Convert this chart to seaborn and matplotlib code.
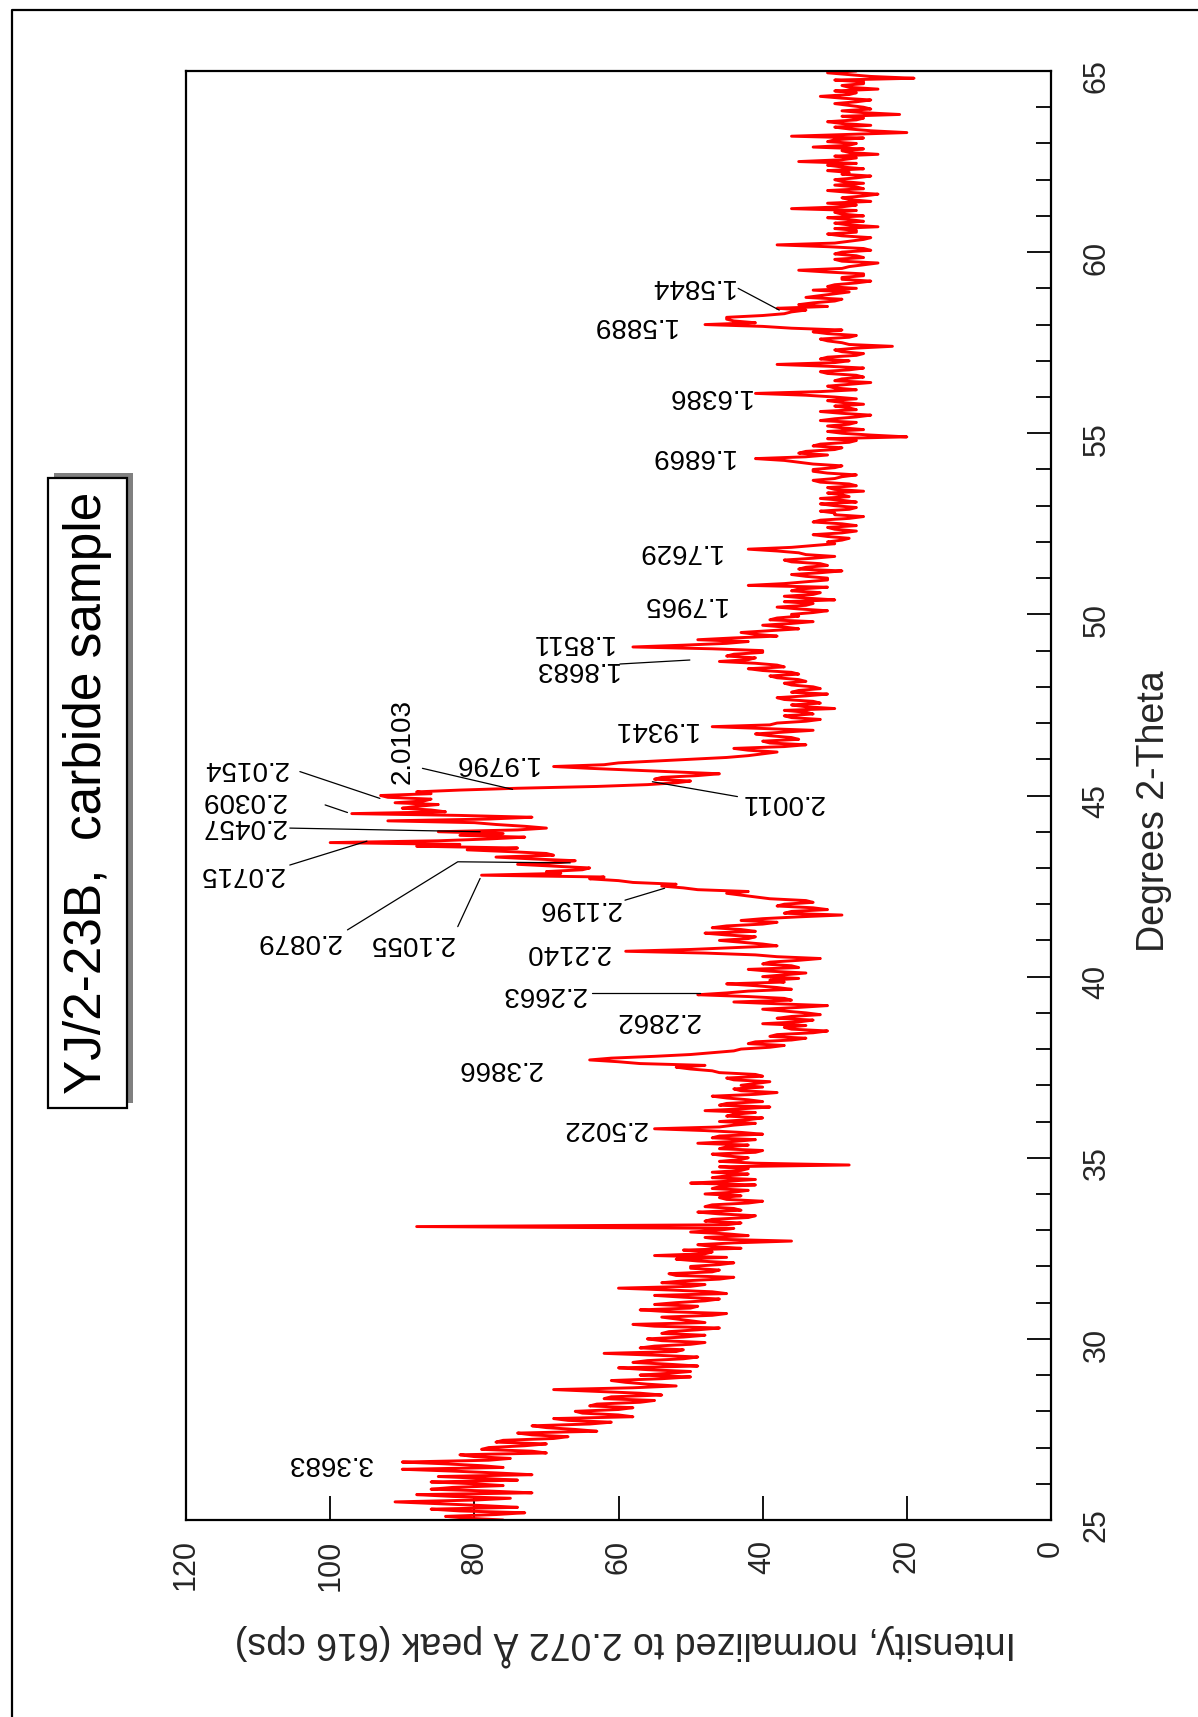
import numpy as np
import pandas as pd
import matplotlib
matplotlib.use("Agg")
import matplotlib.pyplot as plt
import seaborn as sns
from matplotlib.patches import Rectangle
from matplotlib.lines import Line2D
from matplotlib.ticker import MultipleLocator

# ---------------- data ----------------
# scan: 2-theta from 25.00 in steps of 0.05 degree
THETA_START = 25.0
THETA_STEP = 0.05

int_25_30 = [76, 81, 84, 77, 73, 82, 86, 74, 79, 85, 91, 80, 75, 83, 88, 72, 78, 86, 83, 76,
             80, 86, 74, 79, 85, 72, 77, 83, 90, 76, 79, 84, 90, 78, 75, 80, 82, 70, 72, 79,
             78, 73, 70, 77, 76, 69, 67, 72, 74, 63, 66, 70, 72, 64, 61, 67, 69, 58, 60, 65,
             66, 60, 58, 64, 63, 57, 55, 62, 61, 54, 57, 63, 69, 58, 52, 56, 59, 61, 54, 50,
             57, 53, 50, 56, 60, 49, 53, 58, 56, 51, 49, 55, 62, 52, 51, 57, 55, 50, 48, 54]
int_30_35 = [56, 51, 48, 54, 53, 49, 46, 55, 58, 48, 50, 52, 54, 47, 45, 53, 57, 50, 49, 55,
             52, 48, 46, 51, 55, 45, 47, 53, 60, 50, 48, 54, 51, 46, 44, 52, 53, 47, 46, 50,
             50, 46, 44, 49, 52, 45, 55, 48, 47, 51, 43, 47, 49, 44, 36, 46, 48, 42, 45, 50,
             46, 44, 88, 45, 43, 48, 47, 42, 41, 46, 49, 43, 44, 48, 47, 42, 40, 45, 46, 43,
             48, 44, 42, 47, 46, 41, 50, 45, 41, 47, 45, 42, 47, 43, 42, 46, 28, 41, 46, 43]
int_35_40 = [42, 45, 47, 41, 40, 46, 45, 42, 49, 44, 41, 47, 46, 40, 43, 48, 55, 46, 44, 41,
             46, 42, 40, 45, 44, 41, 48, 43, 39, 46, 45, 40, 42, 45, 47, 41, 38, 43, 44, 40,
             43, 41, 39, 44, 45, 40, 41, 46, 47, 50, 52, 48, 57, 60, 64, 61, 55, 50, 47, 44,
             43, 39, 37, 42, 41, 36, 34, 39, 38, 33, 31, 36, 37, 34, 40, 35, 33, 38, 36, 32,
             34, 37, 40, 35, 31, 38, 44, 36, 37, 42, 49, 45, 42, 36, 38, 41, 45, 37, 39, 35]
int_40_45 = [40, 37, 34, 39, 42, 35, 36, 40, 39, 35, 32, 38, 41, 48, 59, 50, 44, 38, 40, 43,
             46, 42, 41, 45, 48, 41, 43, 47, 45, 40, 38, 43, 40, 35, 29, 37, 36, 31, 33, 38,
             37, 33, 34, 39, 41, 43, 45, 42, 49, 51, 54, 52, 58, 60, 64, 62, 79, 68, 70, 65,
             64, 69, 74, 68, 66, 72, 77, 69, 70, 75, 81, 74, 88, 82, 100, 85, 78, 73, 82, 76,
             85, 74, 70, 73, 77, 80, 92, 78, 72, 82, 97, 84, 86, 90, 88, 85, 91, 87, 86, 92]
int_45_50 = [93, 86, 88, 82, 74, 63, 56, 52, 50, 55, 54, 49, 46, 52, 58, 64, 69, 62, 60, 55,
             50, 45, 42, 40, 38, 42, 44, 37, 34, 39, 40, 35, 36, 39, 41, 37, 33, 40, 47, 39,
             38, 34, 32, 36, 37, 33, 34, 37, 30, 34, 36, 32, 33, 37, 38, 34, 31, 36, 35, 32,
             33, 36, 37, 34, 35, 38, 39, 35, 36, 40, 42, 37, 38, 41, 46, 42, 41, 45, 44, 40,
             40, 47, 58, 51, 45, 42, 49, 44, 38, 41, 43, 39, 35, 37, 40, 36, 33, 39, 38, 35]
int_50_55 = [36, 33, 31, 35, 38, 34, 33, 37, 30, 34, 37, 33, 32, 36, 35, 31, 42, 37, 34, 31,
             31, 34, 36, 32, 29, 35, 34, 31, 32, 36, 37, 33, 30, 34, 35, 38, 42, 36, 33, 30,
             31, 29, 28, 31, 33, 29, 27, 30, 31, 27, 29, 33, 32, 28, 26, 30, 30, 32, 28, 27,
             30, 32, 27, 29, 32, 28, 29, 31, 26, 30, 31, 27, 28, 32, 33, 30, 29, 27, 31, 33,
             33, 30, 29, 33, 35, 37, 41, 34, 31, 35, 34, 30, 29, 33, 32, 28, 27, 31, 20, 25]
int_55_60 = [29, 31, 26, 29, 31, 28, 27, 32, 30, 27, 25, 29, 32, 27, 28, 30, 26, 29, 31, 27,
             30, 34, 41, 32, 27, 30, 31, 28, 25, 30, 29, 26, 27, 31, 32, 28, 26, 31, 38, 30,
             28, 32, 31, 27, 26, 29, 30, 27, 22, 28, 29, 31, 32, 28, 27, 31, 33, 29, 36, 40,
             48, 41, 44, 45, 45, 40, 37, 36, 34, 38, 31, 35, 33, 30, 29, 34, 32, 30, 28, 33,
             27, 31, 30, 27, 25, 29, 29, 26, 26, 31, 35, 29, 28, 26, 24, 29, 30, 26, 27, 30]
int_60_65 = [29, 25, 26, 31, 38, 30, 28, 26, 25, 29, 31, 27, 27, 30, 24, 28, 30, 26, 28, 31,
             26, 29, 30, 27, 36, 29, 27, 31, 25, 28, 29, 26, 24, 28, 31, 26, 27, 30, 26, 29,
             30, 27, 25, 29, 28, 31, 26, 29, 31, 27, 35, 29, 27, 30, 24, 28, 29, 26, 33, 28,
             27, 31, 30, 26, 36, 28, 20, 25, 28, 30, 25, 29, 31, 27, 26, 29, 21, 26, 29, 25,
             26, 28, 30, 27, 25, 29, 32, 28, 27, 30, 24, 28, 29, 26, 26, 30, 19, 25, 28, 31,
             27]

intensity = np.array(int_25_30 + int_30_35 + int_35_40 + int_40_45 +
                     int_45_50 + int_50_55 + int_55_60 + int_60_65, dtype=float)
theta = np.round(THETA_START + THETA_STEP * np.arange(len(intensity)), 3)

x_ticks = [0, 20, 40, 60, 80, 100, 120]

title = "YJ/2-23B,  carbide sample"
xlabel = "Intensity, normalized to 2.072 Å peak (616 cps)"
ylabel = "Degrees 2-Theta"

# peak labels: (text, intensity, 2-theta, rotation)
peak_labels = [
    ("3.3683", 100.1, 26.57, 180),
    ("2.5022", 62.0, 35.82, 180),
    ("2.3866", 76.6, 37.48, 180),
    ("2.2862", 54.6, 38.81, 180),
    ("2.2663", 70.4, 39.51, 180),
    ("2.2140", 67.1, 40.67, 180),
    ("2.1196", 65.5, 41.89, 180),
    ("2.1055", 88.8, 40.94, 180),
    ("2.0879", 104.5, 40.99, 180),
    ("2.0715", 112.4, 42.83, 180),
    ("2.0457", 112.1, 44.15, 180),
    ("2.0309", 112.1, 44.87, 180),
    ("2.0154", 111.8, 45.77, 180),
    ("2.0103", 90.0, 46.49, 90),
    ("1.9796", 77.1, 45.91, 180),
    ("2.0011", 37.3, 44.83, 180),
    ("1.9341", 55.1, 46.84, 180),
    ("1.8683", 66.0, 48.49, 180),
    ("1.8511", 66.5, 49.25, 180),
    ("1.7965", 51.0, 50.29, 180),
    ("1.7629", 51.7, 51.76, 180),
    ("1.6869", 49.9, 54.37, 180),
    ("1.6386", 47.5, 56.03, 180),
    ("1.5889", 57.9, 57.99, 180),
    ("1.5844", 49.9, 59.07, 180),
]

# leader lines: lists of (intensity, 2-theta)
leaders = [
    [(63.7, 39.54), (48.7, 39.54)],
    [(59.1, 42.11), (53.6, 42.44)],
    [(82.3, 41.38), (79.2, 42.71)],
    [(97.6, 41.29), (82.3, 43.17), (66.7, 43.14)],
    [(105.6, 43.08), (94.9, 43.74)],
    [(105.6, 44.10), (79.2, 44.00)],
    [(100.7, 44.74), (97.6, 44.53)],
    [(104.2, 45.66), (93.1, 44.92)],
    [(87.2, 45.75), (74.7, 45.17)],
    [(43.5, 44.97), (55.3, 45.38)],
    [(59.8, 48.63), (50.1, 48.74)],
    [(43.4, 59.00), (37.7, 58.40)],
]

# ---------------- figure ----------------
sns.set_style("white")
plt.rcParams['font.family'] = ['Liberation Sans', 'DejaVu Sans']

W, H = 1198, 1717
fig = plt.figure(figsize=(W / 100, H / 100), dpi=100)
fig.patch.set_facecolor("white")
ax = fig.add_axes([186 / W, 1 - 1520 / H, 865 / W, 1449 / H])

df = pd.DataFrame({"theta": theta, "intensity": intensity})
sns.lineplot(data=df, x="intensity", y="theta", orient="y", sort=False,
             estimator=None, color="#ff0000", linewidth=2.1, ax=ax)

ax.set_xlim(120, 0)
ax.set_ylim(25, 65)
ax.set_xticks(x_ticks)
ax.set_xticklabels([str(t) for t in x_ticks])
ax.yaxis.set_major_locator(MultipleLocator(5))
ax.yaxis.set_minor_locator(MultipleLocator(1))
ax.yaxis.tick_right()
ax.yaxis.set_label_position("right")

ax.tick_params(axis="x", which="major", direction="in", length=17, width=1.3,
               pad=14, labelsize=22, labelrotation=90, top=False, bottom=True,
               color="black")
ax.tick_params(axis="y", which="major", direction="in", length=17, width=1.3,
               pad=22, labelsize=22, labelrotation=90, left=False, right=True,
               color="black")
ax.tick_params(axis="y", which="minor", direction="in", length=11, width=1.3,
               left=False, right=True, color="black")
for sp in ax.spines.values():
    sp.set_visible(True)
    sp.set_color("black")
    sp.set_linewidth(1.6)

ax.set_xlabel(xlabel, fontsize=27, rotation=180)
ax.xaxis.set_label_coords(0.508, -0.072)
ax.set_ylabel(ylabel, fontsize=27, rotation=90)
ax.yaxis.set_label_coords(1.098, 0.489)

for txt, xi, yi, rot in peak_labels:
    ax.text(xi, yi, txt, rotation=rot, ha="center", va="center", fontsize=20,
            color="black")
for pts in leaders:
    xs = [p[0] for p in pts]
    ys = [p[1] for p in pts]
    ax.plot(xs, ys, color="black", linewidth=0.9)

# outer border (clipped at right and bottom)
fig.add_artist(Line2D([12 / W, 12 / W, 1.0], [0.0, 1 - 10 / H, 1 - 10 / H],
                      transform=fig.transFigure, color="black", linewidth=1.6))

# title box with shadow
bx, by, bw, bh = 48, 478, 79, 630
fig.add_artist(Rectangle(((bx + 6) / W, 1 - (by + bh - 5) / H), bw / W, bh / H,
                         transform=fig.transFigure, facecolor="#808080",
                         edgecolor="none"))
fig.add_artist(Rectangle((bx / W, 1 - (by + bh) / H), bw / W, bh / H,
                         transform=fig.transFigure, facecolor="white",
                         edgecolor="black", linewidth=1.6))
fig.text((bx + bw / 2) / W, 1 - (by + bh / 2) / H, title, rotation=90,
         ha="center", va="center", fontsize=37, color="black")

fig.savefig("out.png", dpi=100, facecolor="white")
